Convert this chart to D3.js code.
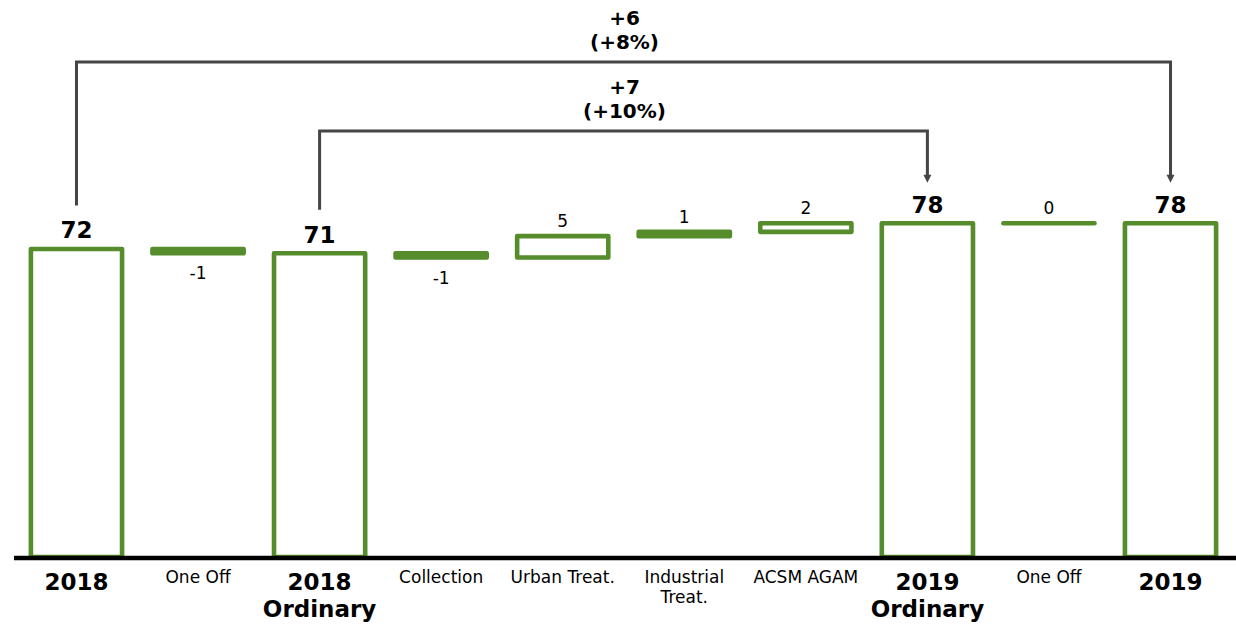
<!DOCTYPE html>
<html>
<head>
<meta charset="utf-8">
<script src="https://cdn.jsdelivr.net/npm/d3@7"></script>
<style>
  body { margin: 0; background: #fff; }
  svg { display: block; }
  text { font-family: "DejaVu Sans", Verdana, sans-serif; fill: #000; }
</style>
</head>
<body>
<svg id="chart" width="1236" height="624"></svg>
<script>
// Waterfall bridge: 2018 -> 2019
const categories = ["2018", "One Off", "2018\nOrdinary", "Collection", "Urban Treat.",
                    "Industrial\nTreat.", "ACSM AGAM", "2019\nOrdinary", "One Off", "2019"];
const kinds  = ["total", "delta", "total", "delta", "delta", "delta", "delta", "total", "delta", "total"];
const values = [72, -1, 71, -1, 5, 1, 2, 78, 0, 78];

// Year-over-year comparison brackets
const bridgeFrom  = [0, 2];
const bridgeTo    = [9, 7];
const bridgeDelta = ["+6", "+7"];
const bridgePct   = ["(+8%)", "(+10%)"];

const GREEN = "#568c2b";
const GREY = "#454545";

const svg = d3.select("#chart");

const x = d3.scaleBand()
  .domain(d3.range(categories.length))
  .range([15.7, 1231.3])
  .paddingInner(0.25)
  .paddingOuter(0.125);

const y = d3.scaleLinear().domain([0, 80]).range([557, 557 - 80 * 4.278]);

// running totals -> floating segments
let running = 0;
const bars = values.map((v, i) => {
  let start, end;
  if (kinds[i] === "total") { start = 0; end = v; running = v; }
  else { start = running; end = running + v; running = end; }
  return { i, v, kind: kinds[i], start, end, lo: Math.min(start, end), hi: Math.max(start, end) };
});

// bars as closed paths so that zero-height segments still show their outline
svg.append("g").selectAll("path")
  .data(bars)
  .join("path")
  .attr("d", d => {
    const p = d3.path();
    const x0 = x(d.i), w = x.bandwidth();
    const top = y(d.hi), bot = y(d.lo);
    p.moveTo(x0, top); p.lineTo(x0 + w, top); p.lineTo(x0 + w, bot); p.lineTo(x0, bot); p.closePath();
    return p.toString();
  })
  .attr("fill", "#fff")
  .attr("stroke", GREEN)
  .attr("stroke-width", 4.6)
  .attr("stroke-linejoin", "round");

// category axis
const axisG = svg.append("g")
  .attr("transform", "translate(0,558)")
  .call(d3.axisBottom(x).tickSize(0).tickFormat(() => ""));
axisG.select(".domain")
  .attr("d", "M14,0H1236")
  .attr("stroke", "#000")
  .attr("stroke-width", 4.5);
axisG.selectAll(".tick").each(function (i) {
  const bold = kinds[i] === "total";
  const lines = categories[i].split("\n");
  const t = d3.select(this).append("text")
    .attr("text-anchor", "middle")
    .style("font-size", bold ? "23px" : "17px")
    .style("font-weight", bold ? "bold" : "normal");
  lines.forEach((ln, k) => {
    t.append("tspan")
      .attr("x", 0)
      .attr("y", bold ? 32 + k * 27 : 25 + k * 20)
      .text(ln);
  });
});

// value labels
const cx = i => x(i) + x.bandwidth() / 2;
const labelY = d => {
  if (d.kind === "total") return y(d.end) - 10.5;
  if (d.v < 0) return y(d.lo) + 26;
  return y(d.hi) - 9;
};
svg.append("g").selectAll("text")
  .data(bars)
  .join("text")
  .attr("x", d => cx(d.i))
  .attr("y", labelY)
  .attr("text-anchor", "middle")
  .style("font-size", d => d.kind === "total" ? "23px" : "17px")
  .style("font-weight", d => d.kind === "total" ? "bold" : "normal")
  .text(d => String(d.v));

// comparison brackets with arrows
const levels = [62, 131];
const gB = svg.append("g");
bridgeFrom.forEach((f, k) => {
  const t = bridgeTo[k];
  const x1 = cx(f), x2 = cx(t);
  const yStart = labelY(bars[f]) - 33;
  const tip = labelY(bars[t]) - 30;
  const ly = levels[k];
  gB.append("path")
    .attr("d", `M${x1},${yStart}V${ly}H${x2}V${tip - 6}`)
    .attr("fill", "none")
    .attr("stroke", GREY)
    .attr("stroke-width", 3);
  gB.append("path")
    .attr("d", `M${x2 - 4},${tip - 8}L${x2 + 4},${tip - 8}L${x2},${tip}Z`)
    .attr("fill", GREY);
  const mid = (x1 + x2) / 2 + 1;
  gB.append("text").attr("x", mid).attr("y", ly - 37)
    .attr("text-anchor", "middle").style("font-size", "20px").style("font-weight", "bold")
    .text(bridgeDelta[k]);
  gB.append("text").attr("x", mid).attr("y", ly - 13)
    .attr("text-anchor", "middle").style("font-size", "20px").style("font-weight", "bold")
    .text(bridgePct[k]);
});
</script>
</body>
</html>
